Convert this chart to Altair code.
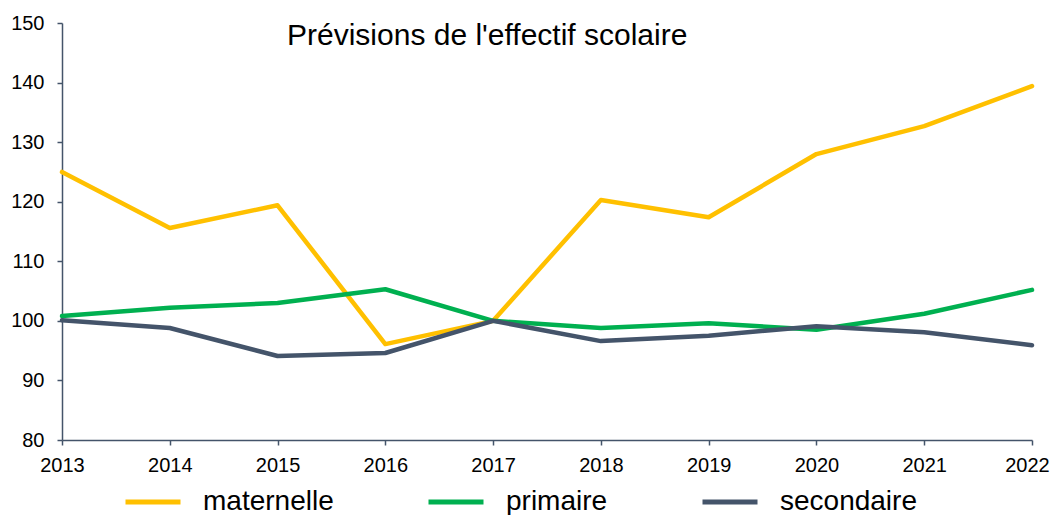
import altair as alt
import pandas as pd

years = [2013, 2014, 2015, 2016, 2017, 2018, 2019, 2020, 2021, 2022]
maternelle = [125.0, 115.6, 119.4, 96.1, 100.0, 120.3, 117.4, 128.0, 132.7, 139.4]
primaire = [100.8, 102.2, 103.0, 105.3, 100.0, 98.8, 99.6, 98.5, 101.2, 105.2]
secondaire = [100.1, 98.8, 94.1, 94.6, 100.0, 96.6, 97.5, 99.1, 98.1, 95.9]

series = ["maternelle", "primaire", "secondaire"]
colors = ["#FFC000", "#00B050", "#44546A"]
title_text = ["Prévisions de l'effectif scolaire"]

rows = []
for name, vals in zip(series, [maternelle, primaire, secondaire]):
    for yr, v in zip(years, vals):
        rows.append({"annee": yr, "valeur": v, "niveau": name})
df = pd.DataFrame(rows)

FONT = "Liberation Sans"
AXIS_COLOR = "#44546A"

lines = alt.Chart(df).mark_line(strokeWidth=4.5, strokeJoin="round", strokeCap="round").encode(
    x=alt.X("annee:Q", scale=alt.Scale(domain=[2013, 2022], nice=False, zero=False),
            axis=alt.Axis(values=years, format="d", title=None, grid=False,
                          labelFontSize=20, labelColor="#000000", labelFont=FONT,
                          labelPadding=10, tickSize=5, tickColor=AXIS_COLOR,
                          domainColor=AXIS_COLOR, domainWidth=1.5, tickWidth=1.5,
                          labelFlush=False,
                          labelOffset={"condition": {"test": "datum.value == 2022", "value": -5},
                                       "value": 0})),
    y=alt.Y("valeur:Q", scale=alt.Scale(domain=[80, 150], nice=False, zero=False),
            axis=alt.Axis(values=[80, 90, 100, 110, 120, 130, 140, 150], title=None, grid=False,
                          labelFontSize=20, labelColor="#000000", labelFont=FONT,
                          labelPadding=13, tickSize=5, tickColor=AXIS_COLOR,
                          domainColor=AXIS_COLOR, domainWidth=1.5, tickWidth=1.5)),
    color=alt.Color("niveau:N", scale=alt.Scale(domain=series, range=colors),
                    legend=alt.Legend(title=None, orient="none", direction="horizontal",
                                      columns=3, legendX=61, legendY=449,
                                      symbolType="stroke", symbolSize=3025,
                                      symbolStrokeWidth=5, labelFontSize=28,
                                      labelFont=FONT, labelColor="#000000",
                                      labelOffset=20, columnPadding=84, padding=0)),
)

title = alt.Chart(pd.DataFrame({"t": title_text})).mark_text(
    align="left", baseline="alphabetic", fontSize=30, font=FONT, color="#000000"
).encode(
    text="t:N",
    x=alt.value(225),
    y=alt.value(22),
)

chart = alt.layer(lines, title).properties(
    width=970,
    height=417,
    autosize=alt.AutoSizeParams(type="none"),
    padding={"left": 54, "top": 15, "right": 18, "bottom": 75},
).configure_view(stroke=None)

chart.save("out.html", embed_options={"renderer": "svg", "actions": False})
